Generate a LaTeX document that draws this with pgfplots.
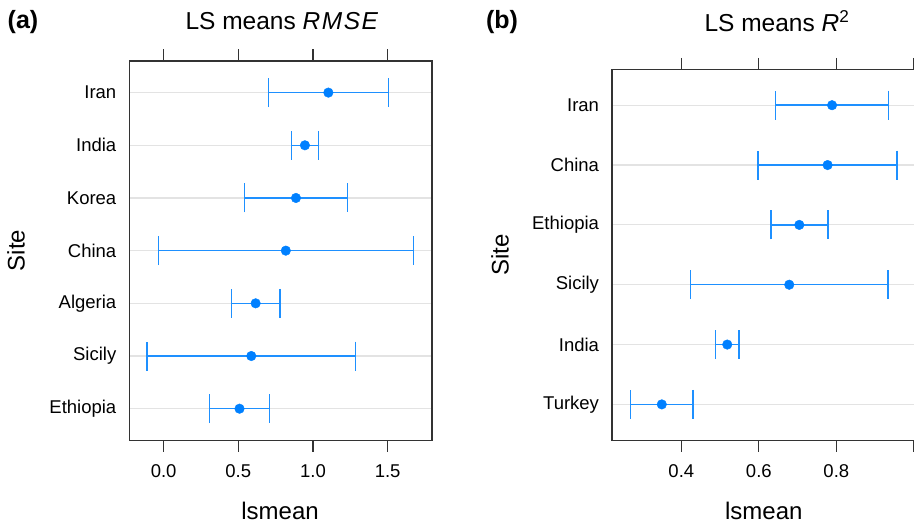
\documentclass[border=0pt]{standalone}
\usepackage{fontspec}
\setmainfont{Liberation Sans}
\usepackage{pgfplots}
\pgfplotsset{compat=1.18}

\definecolor{barblue}{HTML}{1E90FF}
\definecolor{ptblue}{HTML}{0080FF}
\definecolor{boxgray}{HTML}{333333}
\definecolor{gridgray}{HTML}{E3E3E3}

\pgfplotsset{
  lsm/.style={
    scale only axis, anchor=south west,
    axis line style={boxgray, line width=1.2bp},
    tick style={boxgray, line width=1.2bp},
    xtick pos=both, xticklabel pos=lower,
    tick align=outside, major tick length=11.5bp,
    ytick style={draw=none},
    ymajorgrids, grid style={gridgray, line width=1.2bp},
    ticklabel style={font=\fontsize{18.5bp}{20bp}\selectfont},
    xticklabel style={yshift=-9bp},
    yticklabel style={xshift=2bp},
    /pgf/number format/assume math mode=true,
    label style={font=\fontsize{24bp}{26bp}\selectfont, anchor=center},
    title style={font=\fontsize{24.5bp}{26bp}\selectfont, anchor=center, yshift=-5bp},
  },
  ci/.style={
    only marks, mark=*, mark size=4.8bp,
    mark options={ptblue, draw=ptblue, fill=ptblue},
    error bars/.cd, x dir=both, x explicit, error mark=|,
    error bar style={barblue, line width=1.5bp},
    error mark options={barblue, line width=1.5bp, mark size=14.5bp},
  },
}

\begin{document}
\begin{tikzpicture}[x=1bp, y=1bp]
\useasboundingbox (0bp,0bp) rectangle (914bp,524bp);

% (a) RMSE
\begin{axis}[lsm,
  at={(129.3bp,83.7bp)}, width=302.7bp, height=379.3bp,
  xmin=-0.230, xmax=1.797, ymin=0.4, ymax=7.6,
  xtick={0,0.5,1,1.5}, xticklabels={0.0,0.5,1.0,1.5},
  ytick={1,...,7},
  yticklabels={Ethiopia,Sicily,Algeria,China,Korea,India,Iran},
  xlabel={lsmean}, ylabel={Site},
  xlabel style={at={(axis description cs:0.498,-0.1856)}},
  ylabel style={at={(axis description cs:-0.374,0.5)}},
  title={LS means \textit{R\kern1.5bp M\kern1.5bp S\kern1.5bp E}},
  title style={at={(axis description cs:0.504,1.1028)}},
]
\addplot[ci] coordinates {
  (1.103,7) +- (0.401,0)
  (0.946,6) +- (0.090,0)
  (0.886,5) +- (0.346,0)
  (0.818,4) +- (0.854,0)
  (0.616,3) +- (0.163,0)
  (0.587,2) +- (0.699,0)
  (0.508,1) +- (0.200,0)
};
\end{axis}

% (b) R^2
\begin{axis}[lsm,
  at={(612bp,83.7bp)}, width=330bp, height=371bp,
  xmin=0.221, xmax=1.0728, ymin=0.4, ymax=6.6,
  xtick={0.4,0.6,0.8,1.0}, xticklabels={0.4,0.6,0.8,},
  ytick={1,...,6},
  yticklabels={Turkey,India,Sicily,Ethiopia,China,Iran},
  xlabel={lsmean}, ylabel={Site},
  xlabel style={at={(axis description cs:0.46,-0.1898)}},
  ylabel style={at={(axis description cs:-0.339,0.5)}},
  title={LS means\ \textit{R}\textsuperscript{2}},
  title style={at={(axis description cs:0.5,1.1275)}},
]
\addplot[ci] coordinates {
  (0.789,6) +- (0.146,0)
  (0.7775,5) +- (0.1795,0)
  (0.7045,4) +- (0.0735,0)
  (0.6785,3) +- (0.2545,0)
  (0.5185,2) +- (0.0305,0)
  (0.3495,1) +- (0.0805,0)
};
\end{axis}

\node[font=\fontsize{25bp}{26bp}\selectfont\bfseries] at (23bp,502bp) {(a)};
\node[font=\fontsize{25bp}{26bp}\selectfont\bfseries] at (502bp,502bp) {(b)};
\end{tikzpicture}
\end{document}
